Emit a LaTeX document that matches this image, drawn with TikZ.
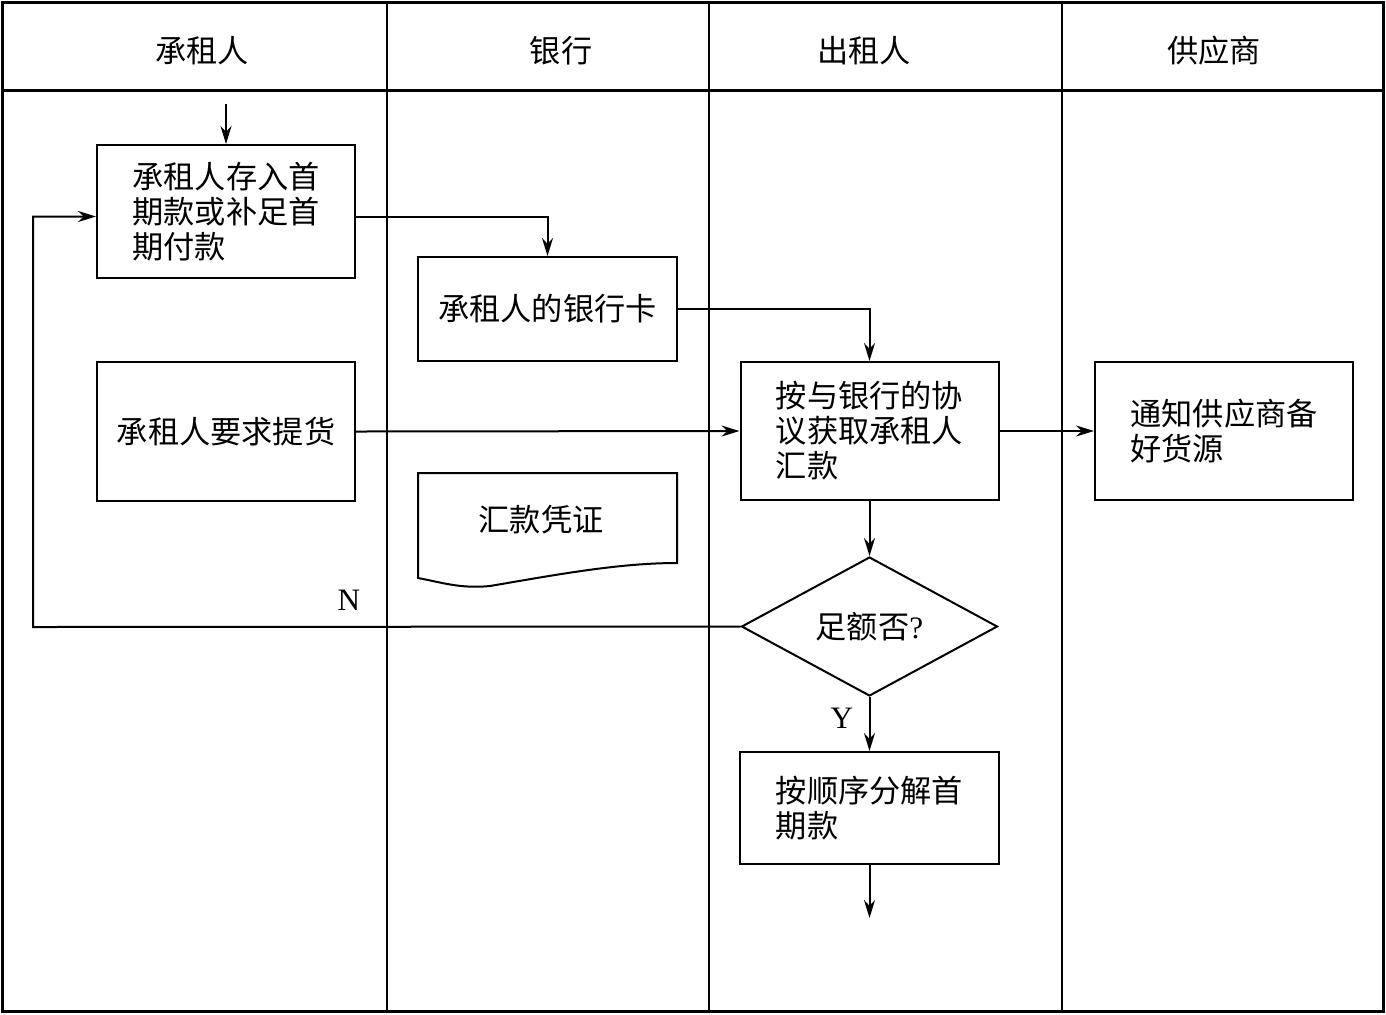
\documentclass[tikz,border=0pt]{standalone}
\usepackage{fontspec}
\setmainfont{Liberation Serif}
\newfontfamily\cjk{Noto Sans CJK SC}
\usetikzlibrary{shapes.geometric,arrows.meta}
\begin{document}
\begin{tikzpicture}[x=0.5pt,y=-0.5pt,
  box/.style={draw,line width=1pt,inner sep=0pt,font=\cjk\fontsize{15.6}{17.5}\selectfont,align=left},
  hdr/.style={font=\cjk\fontsize{15.6}{17.5}\selectfont},
  arr/.style={line width=1pt,-{Stealth[length=9pt,width=5.5pt]}},
  lab/.style={font=\fontsize{15.6}{17}\selectfont}]
\useasboundingbox (0,0) rectangle (1386,1014);
% frame and lanes
\draw[line width=1.5pt] (2,2) rectangle (1383,1011);
\draw[line width=1.5pt] (2,90) -- (1383,90);
\foreach \xx in {387,709,1062} \draw[line width=1pt] (\xx,2) -- (\xx,1011);
\node[hdr] (h1) at (202,51) {承租人};
\node[hdr] (h2) at (561,51) {银行};
\node[hdr] (h3) at (864,51) {出租人};
\node[hdr] (h4) at (1214,51) {供应商};
% boxes
\node[box,minimum width=129pt,minimum height=66.5pt] (A) at (226,211.5) {承租人存入首\\期款或补足首\\期付款};
\node[box,minimum width=129.5pt,minimum height=52pt] (B) at (547.5,309) {承租人的银行卡};
\node[box,minimum width=129pt,minimum height=69.5pt] (C) at (226,431.5) {承租人要求提货};
\node[box,minimum width=129pt,minimum height=69pt] (D) at (869.5,431) {按与银行的协\\议获取承租人\\汇款};
\node[box,minimum width=129pt,minimum height=69pt] (E) at (1224,431) {通知供应商备\\好货源};
\node[box,minimum width=129.5pt,minimum height=56pt] (H) at (869.5,808) {按顺序分解首\\期款};
\node[draw,line width=1pt,shape=diamond,inner sep=0pt,minimum width=128pt,minimum height=69.5pt,font=\fontsize{15.6}{17.5}\selectfont] (G) at (869.5,626.5) {{\cjk 足额否}?};
% document shape
\node[font=\cjk\fontsize{15.6}{17.5}\selectfont] (F) at (541,520) {汇款凭证};
\draw[line width=1pt] (418,473) -- (677,473) -- (677,563)
  .. controls (620,563) and (560,574) .. (490,586)
  .. controls (460,589) and (440,582) .. (418,578) -- cycle;
% connectors
\coordinate (s) at (226,104);
\coordinate (e) at (869.5,918);
\coordinate (nl) at (33,627);
\draw[arr] (s) -- (A.north);
\draw[arr] ([yshift=-2.5pt]A.east) -| (B.north);
\draw[arr] (B.east) -| (D.north);
\draw[arr] (C.east) -- (D.west);
\draw[arr] (D.east) -- (E.west);
\draw[arr] (D.south) -- (G.north);
\draw[arr] (G.south) -- (H.north);
\draw[arr] (H.south) -- (e);
\draw[arr] (G.west) -- (nl) |- ([yshift=-2.5pt]A.west);
\node[lab] (N) at (349,600) {N};
\node[lab] (Y) at (842,718) {Y};
\end{tikzpicture}
\end{document}
